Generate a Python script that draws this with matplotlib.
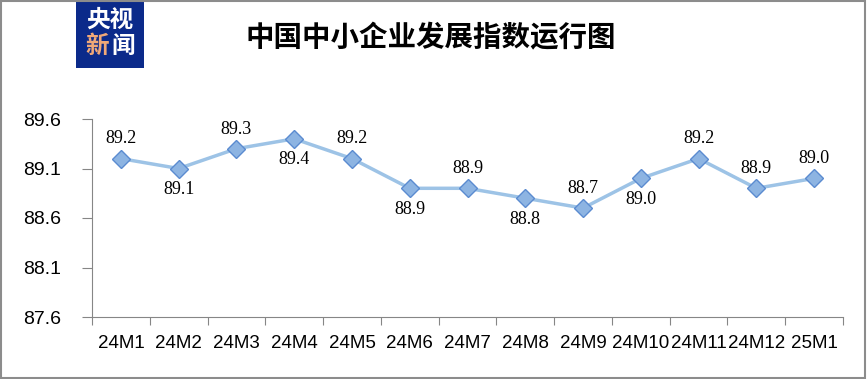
import matplotlib
matplotlib.use("Agg")
import matplotlib.pyplot as plt
from matplotlib.patches import Rectangle

categories = ["24M1", "24M2", "24M3", "24M4", "24M5", "24M6", "24M7",
              "24M8", "24M9", "24M10", "24M11", "24M12", "25M1"]
values = [89.2, 89.1, 89.3, 89.4, 89.2, 88.9, 88.9, 88.8, 88.7, 89.0, 89.2, 88.9, 89.0]
label_above = [True, False, True, False, True, False, True, False, True, False, True, True, True]
yticks = [87.6, 88.1, 88.6, 89.1, 89.6]
title = "中国中小企业发展指数运行图"

plt.rcParams['font.family'] = ['Noto Sans CJK SC', 'DejaVu Sans']

fig = plt.figure(figsize=(8.67, 3.79), dpi=100)
ax = fig.add_axes([92/867, 1-317/379, (843-92)/867, (317-119)/379])

x = list(range(len(categories)))
ax.plot(x, values, color="#9DC3E6", lw=2.5, marker="D", markersize=9,
        markerfacecolor="#8DB4E2", markeredgecolor="#5B8BD0", markeredgewidth=1, zorder=3)
for xi, v, up in zip(x, values, label_above):
    ax.annotate(f"{v:.1f}", (xi, v), xytext=(0, 8 if up else -9), textcoords="offset points",
                ha="center", va="bottom" if up else "top", fontsize=13,
                family=["Liberation Serif"], color="#000000")

ax.set_xlim(-0.5, len(categories) - 0.5)
ax.set_ylim(87.6, 89.6)
ax.set_yticks(yticks)
ax.set_yticklabels([f"{t:.1f}" for t in yticks], fontsize=14, family=["Liberation Sans"])
ax.set_xticks([i - 0.5 for i in range(len(categories) + 1)])
ax.set_xticklabels([])
ax.set_xticks(x, minor=True)
ax.set_xticklabels(categories, minor=True, fontsize=13.5, family=["Liberation Sans"])
ax.tick_params(axis="x", which="minor", length=0, pad=13)
ax.tick_params(axis="x", which="major", length=6, color="#868686", direction="out")
ax.tick_params(axis="y", length=7, color="#868686", direction="out", pad=15)
for s in ["top", "right"]:
    ax.spines[s].set_visible(False)
for s in ["left", "bottom"]:
    ax.spines[s].set_color("#868686")

# Title
fig.text(431/867, 1-38/379, title, ha="center", va="center", fontsize=20.5,
         fontweight="bold", color="#000000")

# Logo
fig.patches.append(Rectangle((76/867, 1-68/379), 68/867, 68/379, transform=fig.transFigure,
                             facecolor="#0B2A8A", edgecolor="none"))
fig.text(110/867, 1-20/379, "央视", ha="center", va="center", fontsize=17,
         fontweight="bold", color="white")
fig.text(97/867, 1-46/379, "新", ha="center", va="center", fontsize=17,
         fontweight="bold", color="#F0A878")
fig.text(123/867, 1-46/379, "闻", ha="center", va="center", fontsize=17,
         fontweight="bold", color="white")

# Border
fig.patches.append(Rectangle((0.001, 0.002), 0.997, 0.996, transform=fig.transFigure,
                             facecolor="none", edgecolor="#8C8C8C", lw=1.5))

fig.savefig("out.png", dpi=100)
